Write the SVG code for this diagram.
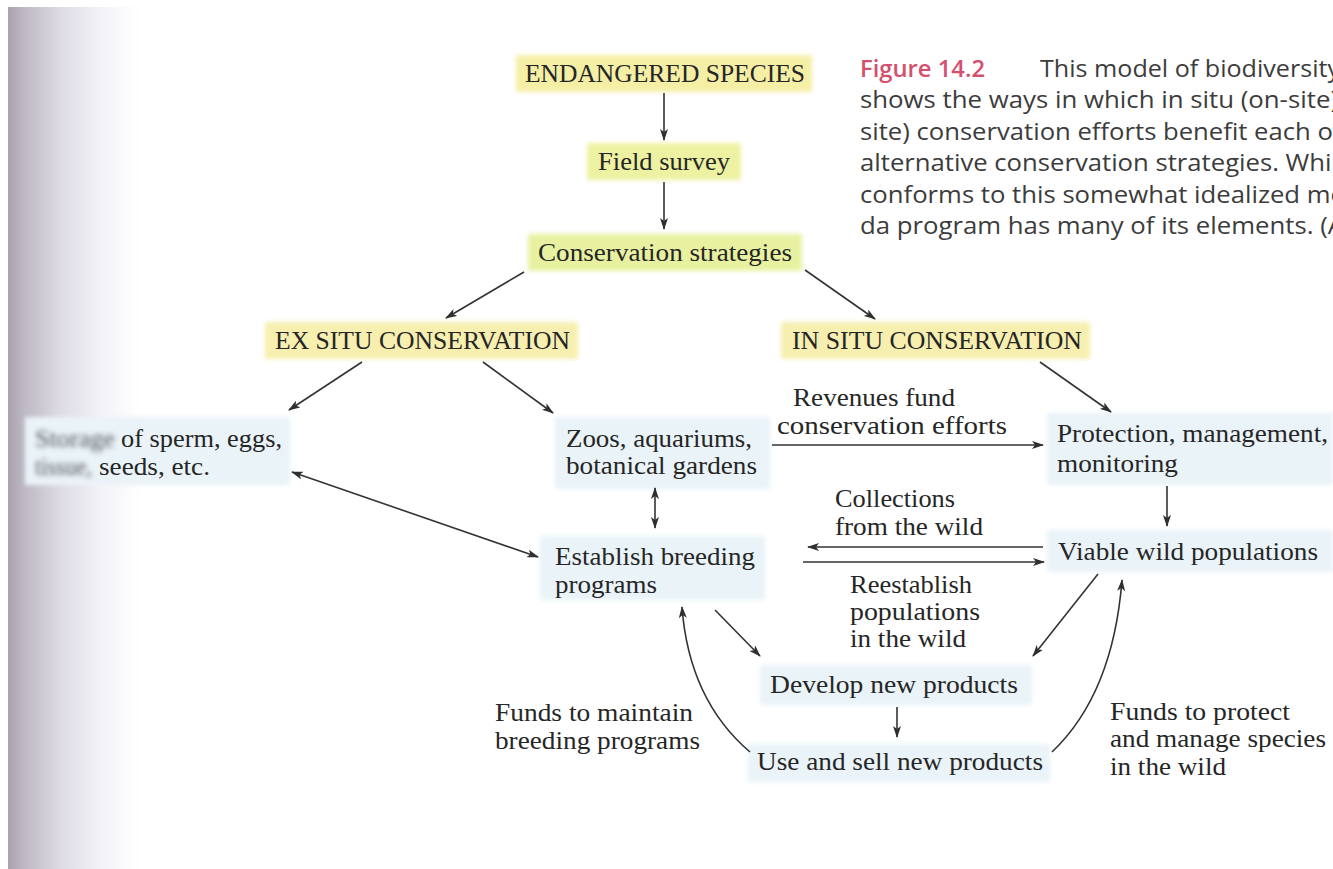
<svg xmlns="http://www.w3.org/2000/svg" width="1333" height="869" viewBox="0 0 1333 869">
<defs>
<linearGradient id="edge" x1="0" y1="0" x2="1" y2="0">
<stop offset="0" stop-color="#a7a2ac"/>
<stop offset="0.12" stop-color="#bdb8c3"/>
<stop offset="0.4" stop-color="#dedbe4"/>
<stop offset="0.7" stop-color="#f3f2f7"/>
<stop offset="1" stop-color="#ffffff"/>
</linearGradient>
<filter id="soft" x="-5%" y="-20%" width="110%" height="140%"><feGaussianBlur stdDeviation="2"/></filter>
<filter id="smear" x="-10%" y="-40%" width="120%" height="180%"><feGaussianBlur stdDeviation="2.4"/></filter>
<marker id="ah" viewBox="0 0 12 8" refX="11" refY="4" markerWidth="12" markerHeight="8" markerUnits="userSpaceOnUse" orient="auto-start-reverse">
<path d="M0,0 L12,4 L0,8 L3,4 z" fill="#2f2f2f"/>
</marker>
</defs>
<style>
.t{font-family:"Liberation Serif","Times New Roman",serif;font-size:25.5px;fill:#262626}
.cap{font-family:"Open Sans","Noto Sans","Liberation Sans",sans-serif;font-size:23px;fill:#3c3c3c}
.fig{fill:#d4506f;font-weight:600}
.yb{filter:url(#soft)}
.bb{fill:#eaf3f8;filter:url(#soft)}
.c{fill:none;stroke:#333;stroke-width:1.6;marker-end:url(#ah)}
.d{marker-start:url(#ah)}
.sm{fill:#55555c;filter:url(#smear)}
</style>
<rect width="1333" height="869" fill="#ffffff"/>
<rect x="8" y="7" width="132" height="862" fill="url(#edge)"/>

<g id="caption">
<text class="cap" y="77"><tspan class="fig" x="860" textLength="125" lengthAdjust="spacingAndGlyphs">Figure 14.2</tspan><tspan x="1040" textLength="300" lengthAdjust="spacingAndGlyphs">This model of biodiversity</tspan></text>
<text class="cap" x="860" y="108" textLength="478" lengthAdjust="spacingAndGlyphs">shows the ways in which in situ (on-site)</text>
<text class="cap" x="860" y="140" textLength="482" lengthAdjust="spacingAndGlyphs">site) conservation efforts benefit each ot</text>
<text class="cap" x="860" y="171" textLength="478" lengthAdjust="spacingAndGlyphs">alternative conservation strategies. Whil</text>
<text class="cap" x="860" y="203" textLength="486" lengthAdjust="spacingAndGlyphs">conforms to this somewhat idealized mo</text>
<text class="cap" x="860" y="234" textLength="484" lengthAdjust="spacingAndGlyphs">da program has many of its elements. (A</text>
</g>

<g id="endangered">
<rect class="yb" x="516" y="55" width="296" height="37" fill="#f5efa6"/>
<text class="t" x="525" y="82" textLength="280" lengthAdjust="spacingAndGlyphs">ENDANGERED SPECIES</text>
</g>
<g id="field-survey">
<rect class="yb" x="587" y="143" width="154" height="37" fill="#edf2a2"/>
<text class="t" x="598" y="170" textLength="132" lengthAdjust="spacingAndGlyphs">Field survey</text>
</g>
<g id="strategies">
<rect class="yb" x="528" y="234" width="274" height="37" fill="#e8f1a0"/>
<text class="t" x="538" y="261" textLength="254" lengthAdjust="spacingAndGlyphs">Conservation strategies</text>
</g>
<g id="ex-situ">
<rect class="yb" x="265" y="322" width="313" height="37" fill="#f7efb0"/>
<text class="t" x="275" y="349" textLength="295" lengthAdjust="spacingAndGlyphs">EX SITU CONSERVATION</text>
</g>
<g id="in-situ">
<rect class="yb" x="781" y="322" width="309" height="37" fill="#f7efb0"/>
<text class="t" x="792" y="349" textLength="290" lengthAdjust="spacingAndGlyphs">IN SITU CONSERVATION</text>
</g>
<g id="storage">
<rect class="bb" x="25" y="417" width="265" height="68"/>
<text class="t sm" x="35" y="447" textLength="80" lengthAdjust="spacingAndGlyphs">Storage</text>
<text class="t" x="121" y="447" textLength="161" lengthAdjust="spacingAndGlyphs">of sperm, eggs,</text>
<text class="t sm" x="35" y="475" textLength="57" lengthAdjust="spacingAndGlyphs">tissue,</text>
<text class="t" x="99" y="475" textLength="111" lengthAdjust="spacingAndGlyphs">seeds, etc.</text>
</g>
<g id="zoos">
<rect class="bb" x="555" y="417" width="215" height="72"/>
<text class="t" x="566" y="447" textLength="186" lengthAdjust="spacingAndGlyphs">Zoos, aquariums,</text>
<text class="t" x="566" y="474" textLength="191" lengthAdjust="spacingAndGlyphs">botanical gardens</text>
</g>
<g id="protection">
<rect class="bb" x="1047" y="413" width="286" height="72"/>
<text class="t" x="1057" y="442" textLength="271" lengthAdjust="spacingAndGlyphs">Protection, management,</text>
<text class="t" x="1057" y="472" textLength="121" lengthAdjust="spacingAndGlyphs">monitoring</text>
</g>
<g id="viable">
<rect class="bb" x="1047" y="530" width="286" height="42"/>
<text class="t" x="1058" y="560" textLength="260" lengthAdjust="spacingAndGlyphs">Viable wild populations</text>
</g>
<g id="breeding">
<rect class="bb" x="540" y="536" width="225" height="64"/>
<text class="t" x="555" y="565" textLength="200" lengthAdjust="spacingAndGlyphs">Establish breeding</text>
<text class="t" x="555" y="593" textLength="102" lengthAdjust="spacingAndGlyphs">programs</text>
</g>
<g id="develop">
<rect class="bb" x="760" y="665" width="272" height="40"/>
<text class="t" x="770" y="693" textLength="248" lengthAdjust="spacingAndGlyphs">Develop new products</text>
</g>
<g id="use-sell">
<rect class="bb" x="748" y="744" width="302" height="38"/>
<text class="t" x="757" y="770" textLength="286" lengthAdjust="spacingAndGlyphs">Use and sell new products</text>
</g>

<g id="connectors">
<path class="c" d="M664,93 L664,140"/>
<path class="c" d="M664,182 L664,229"/>
<path class="c" d="M524,272 L446,318"/>
<path class="c" d="M805,270 L875,319"/>
<path class="c" d="M362,362 L289,410"/>
<path class="c" d="M483,362 L553,413"/>
<path class="c" d="M1040,362 L1111,412"/>
<path class="c" d="M772,445 L1043,445"/>
<path class="c" d="M1167,486 L1167,526"/>
<path class="c" d="M1043,547 L808,547"/>
<path class="c" d="M803,562 L1044,562"/>
<path class="c d" d="M292,472 L538,557"/>
<path class="c d" d="M655,488 L655,528"/>
<path class="c" d="M715,610 L760,656"/>
<path class="c" d="M1098,574 L1033,656"/>
<path class="c" d="M897,707 L897,737"/>
<path class="c" d="M750,752 Q689,700 682,607"/>
<path class="c" d="M1052,752 Q1113,694 1122,580"/>
</g>

<g id="labels">
<text class="t" x="793" y="406" textLength="162" lengthAdjust="spacingAndGlyphs">Revenues fund</text>
<text class="t" x="777" y="434" textLength="230" lengthAdjust="spacingAndGlyphs">conservation efforts</text>
<text class="t" x="835" y="507" textLength="120" lengthAdjust="spacingAndGlyphs">Collections</text>
<text class="t" x="835" y="535" textLength="148" lengthAdjust="spacingAndGlyphs">from the wild</text>
<text class="t" x="850" y="593" textLength="122" lengthAdjust="spacingAndGlyphs">Reestablish</text>
<text class="t" x="850" y="620" textLength="130" lengthAdjust="spacingAndGlyphs">populations</text>
<text class="t" x="850" y="647" textLength="116" lengthAdjust="spacingAndGlyphs">in the wild</text>
<text class="t" x="495" y="721" textLength="198" lengthAdjust="spacingAndGlyphs">Funds to maintain</text>
<text class="t" x="495" y="749" textLength="205" lengthAdjust="spacingAndGlyphs">breeding programs</text>
<text class="t" x="1110" y="720" textLength="180" lengthAdjust="spacingAndGlyphs">Funds to protect</text>
<text class="t" x="1110" y="747" textLength="216" lengthAdjust="spacingAndGlyphs">and manage species</text>
<text class="t" x="1110" y="775" textLength="116" lengthAdjust="spacingAndGlyphs">in the wild</text>
</g>
</svg>
